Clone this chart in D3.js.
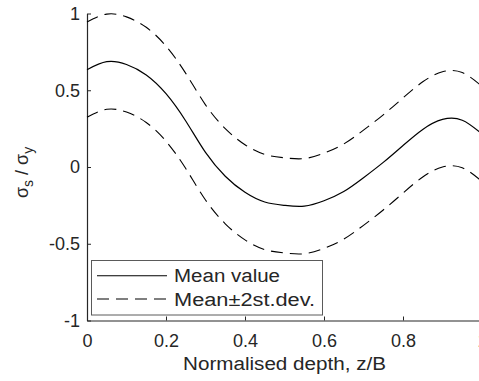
<!DOCTYPE html>
<html>
<head>
<meta charset="utf-8">
<script src="https://cdn.jsdelivr.net/npm/d3@7"></script>
<style>
  body { margin: 0; background: #fff; }
  svg { display: block; }
  text { font-family: "Liberation Sans", Arial, Helvetica, sans-serif; fill: #262626; }
</style>
</head>
<body>
<div id="chart"></div>
<script>
// normalised depth z/B
var depth = [0, 0.05, 0.1, 0.15, 0.2, 0.25, 0.3, 0.35, 0.4, 0.45, 0.5,
             0.55, 0.6, 0.65, 0.7, 0.75, 0.8, 0.85, 0.9, 0.95, 1.0];
// sigma_s / sigma_y
var meanVal = [0.634, 0.686, 0.668, 0.600, 0.478, 0.300, 0.095, -0.060, -0.165, -0.228, -0.250,
               -0.255, -0.220, -0.160, -0.070, 0.030, 0.140, 0.245, 0.310, 0.305, 0.215];
var upperVal = [0.944, 0.996, 0.978, 0.910, 0.788, 0.610, 0.405, 0.250, 0.145, 0.082, 0.060,
                0.055, 0.090, 0.150, 0.240, 0.340, 0.450, 0.555, 0.620, 0.615, 0.525];
var lowerVal = [0.324, 0.376, 0.358, 0.290, 0.168, -0.010, -0.215, -0.370, -0.475, -0.538, -0.560,
                -0.565, -0.530, -0.470, -0.380, -0.280, -0.170, -0.065, 0.000, -0.005, -0.095];

var xTicks = [0, 0.2, 0.4, 0.6, 0.8, 1];
var yTicks = [-1, -0.5, 0, 0.5, 1];
var legendLabels = ["Mean value", "Mean\u00b12st.dev."];

var width = 479, height = 381;
var axisColor = "#262626";

var svg = d3.select("#chart").append("svg")
    .attr("width", width)
    .attr("height", height);

var x = d3.scaleLinear().domain([0, 1]).range([87, 482]);
var y = d3.scaleLinear().domain([-1, 1]).range([320.5, 13.5]);

var fmt = function(d) { return String(d); };

// x axis, ticks pointing in
var gx = svg.append("g")
    .attr("transform", "translate(0," + y(-1) + ")")
    .call(d3.axisBottom(x).tickValues(xTicks).tickFormat(fmt)
      .tickSizeInner(-4).tickSizeOuter(0).tickPadding(14));

var gy = svg.append("g")
    .attr("transform", "translate(" + x(0) + ",0)")
    .call(d3.axisLeft(y).tickValues(yTicks).tickFormat(fmt)
      .tickSizeInner(-4).tickSizeOuter(0).tickPadding(7));

[gx, gy].forEach(function(g) {
  g.selectAll("path.domain").attr("stroke", axisColor).attr("stroke-width", 1.2);
  g.selectAll(".tick line").attr("stroke", axisColor);
  g.selectAll(".tick text")
    .attr("fill", axisColor)
    .style("font-size", "18px")
    .style("font-family", "'Liberation Sans', Arial, sans-serif");
});

// curves
var line = d3.line()
    .x(function(d, i) { return x(depth[i]); })
    .y(function(d) { return y(d); })
    .curve(d3.curveNatural);

svg.append("path")
    .attr("d", line(upperVal))
    .attr("fill", "none").attr("stroke", "#000").attr("stroke-width", 1.1)
    .attr("stroke-dasharray", "12,7");
svg.append("path")
    .attr("d", line(lowerVal))
    .attr("fill", "none").attr("stroke", "#000").attr("stroke-width", 1.1)
    .attr("stroke-dasharray", "12,7");
svg.append("path")
    .attr("d", line(meanVal))
    .attr("fill", "none").attr("stroke", "#000").attr("stroke-width", 1.2);

// axis labels
svg.append("text")
    .attr("x", 183).attr("y", 370)
    .attr("textLength", 203).attr("lengthAdjust", "spacingAndGlyphs")
    .style("font-size", "18px")
    .text("Normalised depth, z/B");

var ylab = svg.append("text")
    .attr("transform", "translate(28,198) rotate(-90)")
    .style("font-size", "18px");
ylab.append("tspan").text("\u03c3");
ylab.append("tspan").attr("dy", 5).style("font-size", "14px").text("s");
ylab.append("tspan").attr("dy", -5).text(" / \u03c3");
ylab.append("tspan").attr("dy", 5).style("font-size", "14px").text("y");

// legend
var leg = svg.append("g");
leg.append("rect")
    .attr("x", 91.5).attr("y", 260.5)
    .attr("width", 231).attr("height", 54.5)
    .attr("fill", "#fff").attr("stroke", "#5a5a5a").attr("stroke-width", 1);

var rowY = [275.7, 299];
var dashes = [null, "12,7"];
var textW = [106, 141];
legendLabels.forEach(function(lbl, i) {
  leg.append("line")
      .attr("x1", 97).attr("x2", 167)
      .attr("y1", rowY[i]).attr("y2", rowY[i])
      .attr("stroke", "#000").attr("stroke-width", 1.1)
      .attr("stroke-dasharray", dashes[i]);
  leg.append("text")
      .attr("x", 174).attr("y", rowY[i] + 6.5)
      .attr("textLength", textW[i]).attr("lengthAdjust", "spacingAndGlyphs")
      .style("font-size", "18px")
      .attr("fill", "#000")
      .text(lbl);
});
</script>
</body>
</html>
